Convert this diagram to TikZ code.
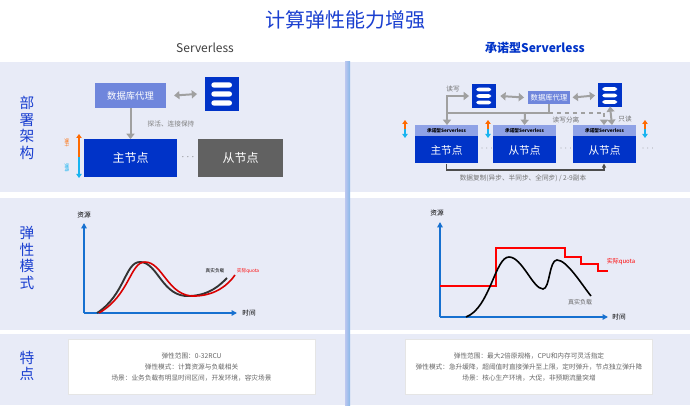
\documentclass[tikz,border=0pt]{standalone}
\usepackage{fontspec}
\setmainfont{Noto Sans CJK SC}
\usetikzlibrary{arrows.meta,positioning}
\definecolor{panel}{HTML}{E8EBF7}
\definecolor{deepblue}{HTML}{0033C8}
\definecolor{proxyblue}{HTML}{6F86DC}
\definecolor{headblue}{HTML}{8FA2E6}
\definecolor{titleblue}{HTML}{1A3FD0}
\definecolor{upor}{HTML}{FF6A00}
\definecolor{downcy}{HTML}{18B4F0}
\definecolor{axisblue}{HTML}{1670D0}
\definecolor{linegray}{HTML}{A0A0A0}
\tikzset{
	proxybox/.style={fill=proxyblue, text=white, font=\fontsize{7}{8}\selectfont, inner sep=0pt},
	nodebox/.style={fill=deepblue, text=white, font=\fontsize{9}{10}\selectfont, inner sep=0pt},
	headband/.style={fill=headblue, text=black, font=\fontsize{3.5}{4}\selectfont\bfseries, inner sep=0pt},
	garrow/.style={draw=linegray, line width=1.5pt, -{Triangle[length=4pt,width=6pt]}},
	gdouble/.style={draw=linegray, line width=1.5pt, {Triangle[length=4pt,width=6pt]}-{Triangle[length=4pt,width=6pt]}},
	small/.style={font=\fontsize{5}{6}\selectfont, text=gray},
	tiny/.style={font=\fontsize{3.5}{4}\selectfont},
	dots/.style={text=black!55, font=\fontsize{7}{7}\selectfont},
	axis/.style={draw=axisblue, line width=1.2pt, -{Triangle[length=4pt,width=4pt]}},
	rowlabel/.style={text=titleblue, font=\fontsize{11}{12.5}\selectfont, align=center},
	featbox/.style={fill=white, draw=black!10, inner sep=0pt},
	feattext/.style={font=\fontsize{5}{8}\selectfont, text=black!60, align=center}
}
% a database icon
\newcommand{\dbicon}[3]{%
	\node[fill=deepblue, minimum width=#2, minimum height=#2, inner sep=0pt] (#1) at #3 {};
	\foreach \k in {-1,0,1}{
		\fill[white, rounded corners=2pt] ([xshift=-0.32*#2, yshift=\k*0.27*#2-0.08*#2]#1.center) rectangle ([xshift=0.3*#2, yshift=\k*0.27*#2+0.08*#2]#1.center);
	}
}
% up / down arrows
\newcommand{\updown}[4]{%
	\draw[upor, line width=1.2pt, -{Triangle[length=3pt,width=4pt]}] (#1,#3) -- (#1,#2);
	\draw[downcy, line width=1.2pt, -{Triangle[length=3pt,width=4pt]}] (#1,#3) -- (#1,#4);
}
\begin{document}
\begin{tikzpicture}[x=0.75pt, y=-0.75pt]
	\useasboundingbox (0,0) rectangle (690,410);
	\fill[white] (0,0) rectangle (690,410);
	\node[text=titleblue, font=\fontsize{15}{16}\selectfont] (title) at (345,20) {计算弹性能力增强};
	\node[font=\fontsize{9}{10}\selectfont, text=black!75] (hleft) at (205,48) {Serverless};
	\node[font=\fontsize{9}{10}\selectfont\bfseries, text=deepblue] (hright) at (535,48) {承诺型Serverless};

	% panels
	\fill[panel] (0,62) rectangle (690,192);
	\fill[panel] (0,198) rectangle (690,330);
	\fill[panel] (0,334) rectangle (690,405);
	\fill[left color=headblue!60, right color=axisblue!50] (345,62) rectangle (350,405);

	\node[rowlabel] (lab1) at (27,128) {部\\署\\架\\构};
	\node[rowlabel] (lab2) at (27,258) {弹\\性\\模\\式};
	\node[rowlabel] (lab3) at (27,366) {特\\点};

	% left deployment
	\node[proxybox, minimum width=53pt, minimum height=19pt] (lproxy) at (130.5,95.5) {数据库代理};
	\dbicon{ldb}{25pt}{(222,94)}
	\node[nodebox, minimum width=70pt, minimum height=28pt] (lmaster) at (130.5,158) {主节点};
	\node[nodebox, fill=black!62, minimum width=64pt, minimum height=28pt] (lslave) at (240.5,158) {从节点};
	\node[dots] (ldots) at (188,157) {$\cdots$};
	\draw[gdouble] ([xshift=6pt]lproxy.east) -- ([xshift=-6pt]ldb.west);
	\draw[garrow] (lproxy) -- (lmaster);
	\node[small, anchor=west] (lprobe) at (143,124) {探活、连接保持};
	\updown{79}{134}{157}{178}
	\node[tiny, text=upor, rotate=-90] (lup) at (67,143) {弹升};
	\node[tiny, text=downcy, rotate=-90] (ldown) at (67,168) {弹降};

	% right deployment
	\dbicon{rdba}{18pt}{(484,96)}
	\dbicon{rdbb}{18pt}{(610,95.5)}
	\node[proxybox, minimum width=31pt, minimum height=10pt, font=\fontsize{5.5}{6}\selectfont] (rproxy) at (549,97.5) {数据库代理};
	\draw[gdouble] ([xshift=3pt]rdba.east) -- ([xshift=-3pt]rproxy.west);
	\draw[gdouble] ([xshift=2pt]rproxy.east) -- ([xshift=-2pt]rdbb.west);
	\foreach \nm/\cx/\txt in {rmaster/446.5/主节点, rslavea/524.5/从节点, rslaveb/604.5/从节点}{
		\node[nodebox, minimum width=47pt, minimum height=28.5pt, anchor=north] (\nm) at (\cx,125) {};
		\node[headband, minimum width=47pt, minimum height=8pt, anchor=north] (\nm h) at (\cx,125) {承诺型Serverless};
		\node[text=white, font=\fontsize{8}{9}\selectfont] at (\cx,150) {\txt};
	}
	\coordinate (rjoin) at (549,113);
	\draw[linegray, line width=1.5pt] (rproxy.south) -- (rjoin) -- (447,113);
	\draw[garrow] (447,113) -- (447,96) -- ([xshift=-2pt]rdba.west);
	\draw[garrow] (447,113) -- (rmaster.north -| 447,0);
	\draw[garrow] (525,113) -- (rslavea.north);
	\draw[linegray, line width=1.5pt, dashed] (rjoin) -- (604,113);
	\draw[garrow, dashed] (604,113) -- (rslaveb.north -| 604,0);
	\draw[gdouble] ([yshift=1pt]rdbb.south) -- (rslaveb.north -| 612,0);
	\node[small, text=black!55] (rrw) at (453,89) {读写};
	\node[small, text=black!55] (rsplit) at (566,120) {读写分离};
	\node[small, text=black!55] (rro) at (625,119) {只读};
	\foreach \dx in {487,566,648}{
		\node[dots, font=\fontsize{6}{6}\selectfont] at (\dx,149) {$\cdots$};
	}
	\foreach \ax in {405,488,645}{
		\updown{\ax}{120}{129}{138}
	}
	\draw[black!70, line width=0.8pt, -{Triangle[length=3pt,width=3pt]}] (rmaster.south) -- (446.5,170) -- (604,170) -- (rslaveb.south -| 604,0);
	\node[small, text=black!55] (rrep) at (523,178) {数据复制(异步、半同步、全同步) / 2-9副本};

	% left chart
	\coordinate (lo) at (84,313);
	\draw[axis] (lo) -- (84,223);
	\draw[axis] (lo) -- (237,313);
	\node[font=\fontsize{5}{6}\selectfont] (lres) at (84,215) {资源};
	\node[font=\fontsize{5}{6}\selectfont] (ltime) at (249,313) {时间};
	\draw[black!80, line width=1.4pt] (97,313) .. controls (125,295) and (125,262) .. (140,262) .. controls (158,262) and (162,298) .. (190,296) .. controls (210,295) and (220,285) .. (227,278);
	\draw[red!85!black, line width=1.2pt] (99,313) .. controls (130,295) and (130,262) .. (145,262) .. controls (163,262) and (168,298) .. (196,296) .. controls (216,295) and (228,285) .. (235,275);
	\node[tiny] (lreal) at (215,271) {真实负载};
	\node[tiny, text=red] (lquota) at (248,271) {实际quota};

	% right chart
	\coordinate (ro) at (440,317);
	\draw[axis] (ro) -- (440,222);
	\draw[axis] (ro) -- (608,317);
	\node[font=\fontsize{5}{6}\selectfont] (rres) at (437,213) {资源};
	\node[font=\fontsize{5}{6}\selectfont] (rtime) at (619,317) {时间};
	\draw[red, line width=1.2pt] (440,286) -- (496,286) -- (496,248) -- (565,248) -- (565,257) -- (581,257) -- (581,264) -- (598,264) -- (598,271) -- (608,271);
	\node[text=red, font=\fontsize{4.5}{5}\selectfont] (rquota) at (621,262) {实际quota};
	\draw[black, line width=1.2pt] (466,317) .. controls (490,308) and (495,257) .. (509,257) .. controls (522,257) and (533,289) .. (543,289) .. controls (550,289) and (549,260) .. (557,260) .. controls (567,260) and (582,285) .. (591,296);
	\node[text=black!60, font=\fontsize{4.5}{5}\selectfont] (rreal) at (580,302) {真实负载};

	% features
	\node[featbox, minimum width=185pt, minimum height=41pt] (lfeat) at (191.5,367) {};
	\node[feattext] at (lfeat) {弹性范围：0-32RCU\\弹性模式：计算资源与负载相关\\场景：业务负载有明显时间区间，开发环境，容灾场景};
	\node[featbox, minimum width=185pt, minimum height=41pt] (rfeat) at (529,367) {};
	\node[feattext] at (rfeat) {弹性范围：最大2倍原规格，CPU和内存可灵活指定\\弹性模式：急升缓降，超阈值时直接弹升至上限，定时弹升，节点独立弹升降\\场景：核心生产环境，大促，非预期流量突增};
\end{tikzpicture}
\end{document}
